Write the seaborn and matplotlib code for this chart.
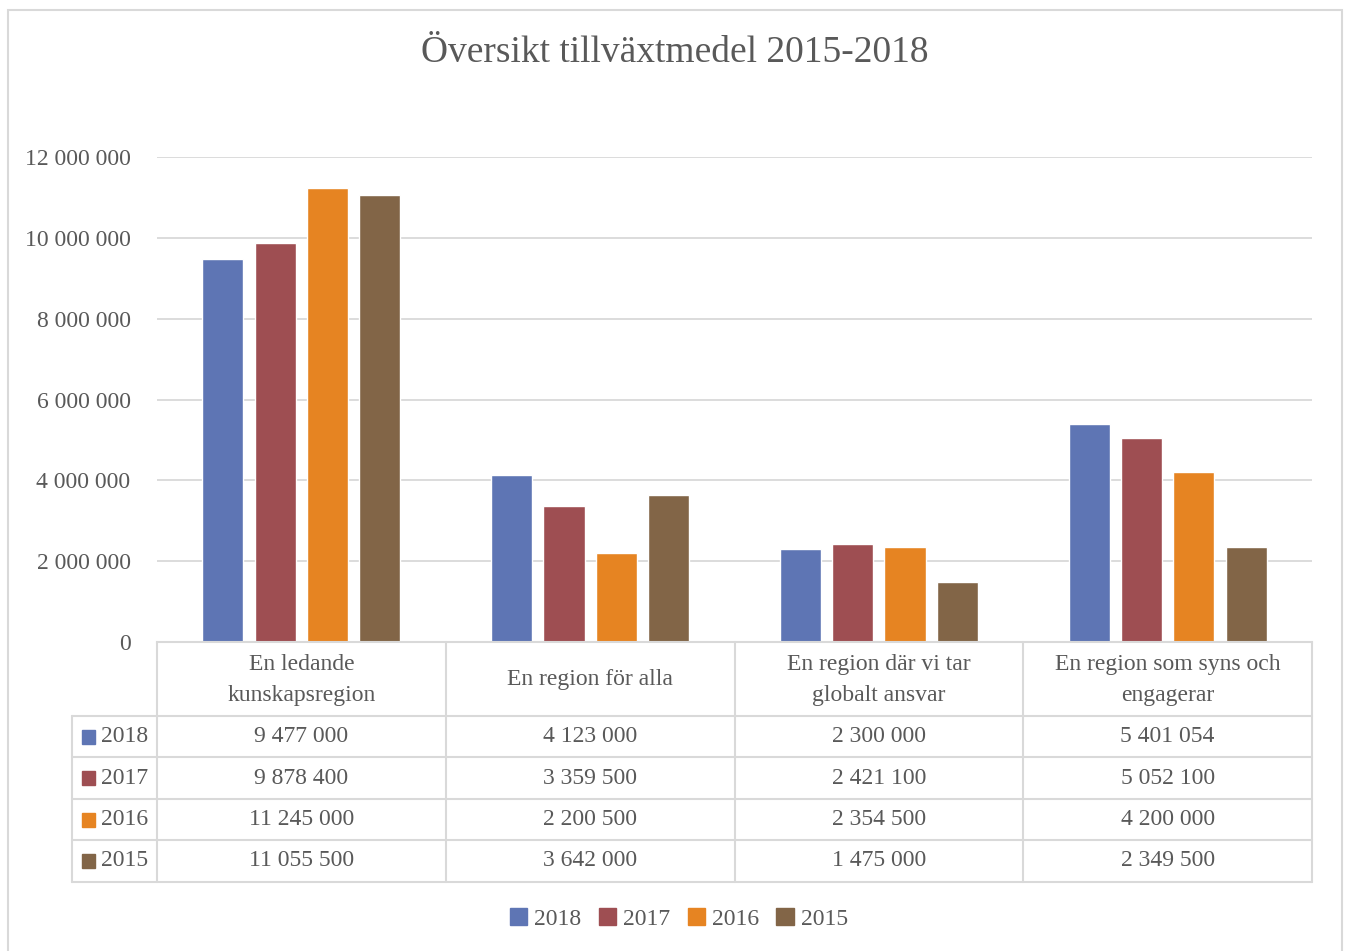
import numpy as np
import pandas as pd
import matplotlib
matplotlib.use("Agg")
import matplotlib.pyplot as plt
import matplotlib.patches as mpatches
from matplotlib.lines import Line2D
from matplotlib.ticker import FuncFormatter
import matplotlib.transforms as mtransforms
import seaborn as sns

# ── data ─────────────────────────────────────────────────────────────
categories = [
    "En ledande\nkunskapsregion",
    "En region för alla",
    "En region där vi tar\nglobalt ansvar",
    "En region som syns och\nengagerar",
]
years = ["2018", "2017", "2016", "2015"]
v2018 = [9477000, 4123000, 2300000, 5401054]
v2017 = [9878400, 3359500, 2421100, 5052100]
v2016 = [11245000, 2200500, 2354500, 4200000]
v2015 = [11055500, 3642000, 1475000, 2349500]
yticks = [0, 2000000, 4000000, 6000000, 8000000, 10000000, 12000000]

COLORS = {"2018": "#5E75B4", "2017": "#9E4E52", "2016": "#E68422", "2015": "#826547"}
TXT = "#595959"
GRID = "#D9D9D9"

series = {"2018": v2018, "2017": v2017, "2016": v2016, "2015": v2015}
df = pd.DataFrame([
    {"cat": c, "year": y, "value": vals[i]}
    for y, vals in series.items()
    for i, c in enumerate(categories)
])


def fmt(v):
    return f"{int(v):,}".replace(",", " ")


sns.set_style("white")
plt.rcParams["font.family"] = ["Liberation Serif", "DejaVu Serif"]

W, H = 1347, 951
fig = plt.figure(figsize=(W / 100, H / 100), dpi=100)


def fx(px):
    return px / W


def fy(py):
    return 1 - py / H


ax = fig.add_axes([fx(157), fy(642), fx(1312) - fx(157), fy(157) - fy(642)])
sns.barplot(data=df, x="cat", y="value", hue="year", hue_order=years,
            palette=COLORS, width=0.724, gap=0.215, ax=ax, legend=False,
            saturation=1, errorbar=None)

ax.set_xlim(-0.5, 3.5)
ax.set_ylim(0, 12000000)
ax.set_yticks(yticks)
ax.yaxis.set_major_formatter(FuncFormatter(lambda v, p: fmt(v)))
ax.tick_params(axis="y", length=0, pad=19, labelsize=17, labelcolor=TXT)
ax.set_xticks([])
ax.set_xlabel("")
ax.set_ylabel("")
ax.grid(axis="y", color=GRID, lw=1.3)
ax.set_axisbelow(True)
for s in ["left", "right", "top"]:
    ax.spines[s].set_visible(False)
ax.spines["bottom"].set_color(GRID)
ax.spines["bottom"].set_linewidth(1.5)

fig.text(fx(675), fy(53), "Översikt tillväxtmedel 2015-2018", ha="center",
         va="center", fontsize=27, color=TXT)

# ── data table below the axis ────────────────────────────────────────
tr = mtransforms.blended_transform_factory(ax.transData, fig.transFigure)
left_edge = -0.5 - (157 - 72) / ((1312 - 157) / 4)
row_edges = [716, 757, 799, 840, 882]
lkw = dict(color=GRID, lw=1.5, transform=tr, clip_on=False)

for ry in row_edges:
    fig.add_artist(Line2D([left_edge, 3.5], [fy(ry), fy(ry)], **lkw))
for cx in [-0.5, 0.5, 1.5, 2.5, 3.5]:
    fig.add_artist(Line2D([cx, cx], [fy(642), fy(882)], **lkw))
fig.add_artist(Line2D([left_edge, left_edge], [fy(716), fy(882)], **lkw))

for i, c in enumerate(categories):
    fig.text(i, fy(680), c, transform=tr, ha="center", va="center",
             fontsize=17, color=TXT, linespacing=1.6)

for r, y in enumerate(years):
    yc = (fy(row_edges[r]) + fy(row_edges[r + 1])) / 2
    fig.add_artist(mpatches.Rectangle((fx(82), yc - 7 / H), 13 / W, 14 / H,
                                      color=COLORS[y], transform=fig.transFigure))
    fig.text(fx(101), yc, y, ha="left", va="center", fontsize=17, color=TXT)
    for i, v in enumerate(series[y]):
        fig.text(i, yc, fmt(v), transform=tr, ha="center", va="center",
                 fontsize=17, color=TXT)

# ── legend ───────────────────────────────────────────────────────────
handles = [mpatches.Patch(color=COLORS[y], label=y) for y in years]
fig.legend(handles=handles, loc="center", bbox_to_anchor=(fx(679), fy(919)),
           ncol=4, frameon=False, fontsize=17, labelcolor=TXT,
           handlelength=0.75, handleheight=0.75, handletextpad=0.3,
           columnspacing=0.72)

# chart border
fig.add_artist(mpatches.Rectangle((fx(8), fy(960)), fx(1342) - fx(8), fy(10) - fy(960),
                                  fill=False, edgecolor=GRID, lw=1.5,
                                  transform=fig.transFigure))

fig.savefig("out.png", dpi=100)
